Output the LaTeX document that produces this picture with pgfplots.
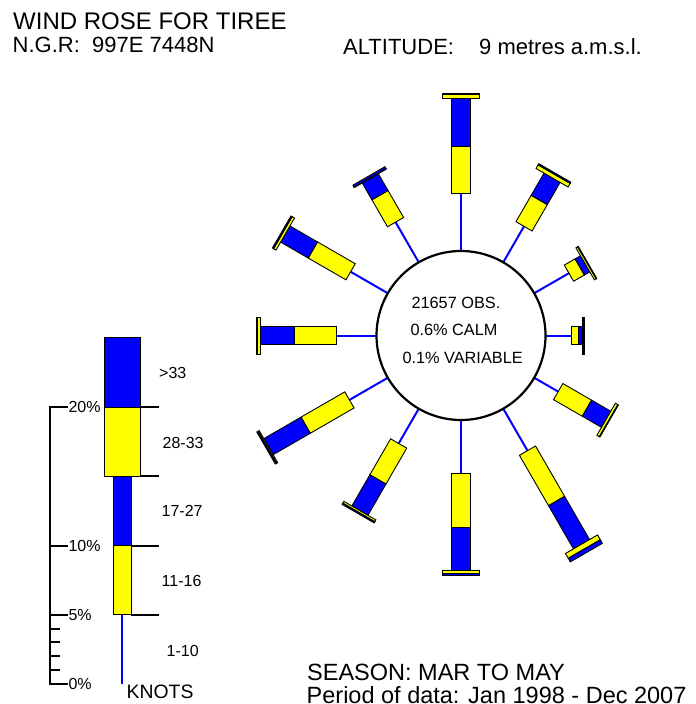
\documentclass[border=0pt]{standalone}
\usepackage{pgfplots}
\pgfplotsset{compat=1.18}
\usepackage{pgfplotstable}
\usepackage{fontspec}
\setmainfont{Liberation Sans}

\definecolor{wblue}{RGB}{0,0,255}
\definecolor{wyellow}{RGB}{255,255,0}

% wind rose data (percent of observations), direction in degrees
% a = 1-10 kn, b = 11-16 kn, c = 17-27 kn, d = 28-33 kn, e = >33 kn
\pgfplotstableread{
dir a b c d e
0   4.15 3.40 3.45 0.30 0.10
30  3.00 2.20 1.85 0.30 0.10
60  2.90 0.90 0.45 0.15 0.05
90  1.90 0.50 0.30 0.05 0.05
120 2.00 2.40 1.60 0.20 0.05
150 3.50 4.20 3.60 0.40 0.30
180 3.85 3.90 3.10 0.25 0.10
210 2.90 3.00 2.60 0.15 0.10
240 3.20 3.65 3.10 0.10 0.10
270 2.90 3.00 2.50 0.20 0.10
300 3.10 3.15 2.30 0.20 0.10
330 3.35 2.25 1.40 0.05 0.15
}\rosetable

\def\cx{461}\def\cy{335.5}\def\rzero{84.5}\def\scl{13.85}
\def\hn{9.3}\def\hw{18.5}

\newcommand\seg[5]{%
  \pgfmathsetmacro\ux{sin(#1)}\pgfmathsetmacro\uy{-cos(#1)}%
  \pgfmathsetmacro\pxx{cos(#1)}\pgfmathsetmacro\pyy{sin(#1)}%
  \pgfmathsetmacro\Ax{\cx+(#2)*\ux+(#4)*\pxx}\pgfmathsetmacro\Ay{\cy+(#2)*\uy+(#4)*\pyy}%
  \pgfmathsetmacro\Bx{\cx+(#3)*\ux+(#4)*\pxx}\pgfmathsetmacro\By{\cy+(#3)*\uy+(#4)*\pyy}%
  \pgfmathsetmacro\Cx{\cx+(#3)*\ux-(#4)*\pxx}\pgfmathsetmacro\Cy{\cy+(#3)*\uy-(#4)*\pyy}%
  \pgfmathsetmacro\Dx{\cx+(#2)*\ux-(#4)*\pxx}\pgfmathsetmacro\Dy{\cy+(#2)*\uy-(#4)*\pyy}%
  \edef\tmp{\noexpand\addplot[fill=#5,draw=black,line width=0.9bp] coordinates {(\Ax,\Ay) (\Bx,\By) (\Cx,\Cy) (\Dx,\Dy)} -- cycle;}\tmp
}
\newcommand\spoke[2]{%
  \pgfmathsetmacro\ux{sin(#1)}\pgfmathsetmacro\uy{-cos(#1)}%
  \pgfmathsetmacro\Ax{\cx+(\rzero-3)*\ux}\pgfmathsetmacro\Ay{\cy+(\rzero-3)*\uy}%
  \pgfmathsetmacro\Bx{\cx+(#2)*\ux}\pgfmathsetmacro\By{\cy+(#2)*\uy}%
  \edef\tmp{\noexpand\addplot[wblue,line width=2bp] coordinates {(\Ax,\Ay) (\Bx,\By)};}\tmp
}

\begin{document}
\begin{tikzpicture}
\begin{axis}[
  scale only axis, width=696bp, height=704bp,
  xmin=0, xmax=696, ymin=0, ymax=704, y dir=reverse,
  hide axis, clip=false]

\addplot[draw=none] coordinates {(0,0) (696,704)};

% rose spokes and bars
\pgfplotsinvokeforeach{0,...,11}{%
  \pgfplotstablegetelem{#1}{dir}\of\rosetable \pgfmathsetmacro\wdir{\pgfplotsretval}%
  \pgfplotstablegetelem{#1}{a}\of\rosetable \pgfmathsetmacro\ra{\rzero+\scl*\pgfplotsretval}%
  \pgfplotstablegetelem{#1}{b}\of\rosetable \pgfmathsetmacro\rb{\ra+\scl*\pgfplotsretval}%
  \pgfplotstablegetelem{#1}{c}\of\rosetable \pgfmathsetmacro\rc{\rb+\scl*\pgfplotsretval}%
  \pgfplotstablegetelem{#1}{d}\of\rosetable \pgfmathsetmacro\rd{\rc+\scl*\pgfplotsretval}%
  \pgfplotstablegetelem{#1}{e}\of\rosetable \pgfmathsetmacro\re{\rd+\scl*\pgfplotsretval}%
  \spoke{\wdir}{\ra}%
  \seg{\wdir}{\ra}{\rb}{\hn}{wyellow}%
  \seg{\wdir}{\rb}{\rc}{\hn}{wblue}%
  \seg{\wdir}{\rc}{\rd}{\hw}{wyellow}%
  \seg{\wdir}{\rd}{\re}{\hw}{wblue}%
}

% central circle
\draw[line width=2.2bp, fill=white] (axis cs:461,335.5) circle[radius=84.5bp];
\node[anchor=base west, inner sep=0, font=\fontsize{16.3bp}{18bp}\selectfont] at (axis cs:411.3,308.3) {21657 OBS.};
\node[anchor=base west, inner sep=0, font=\fontsize{16.3bp}{18bp}\selectfont] at (axis cs:410.3,335.7) {0.6\% CALM};
\node[anchor=base west, inner sep=0, font=\fontsize{16.3bp}{18bp}\selectfont] at (axis cs:402.3,363.3) {0.1\% VARIABLE};

% legend bar (each class = 5%)
\addplot[wblue, line width=2bp] coordinates {(122,684) (122,614.75)};
\addplot[fill=wyellow,draw=black,line width=0.9bp] coordinates {(113,614.75) (131,614.75) (131,545.5) (113,545.5)} -- cycle;
\addplot[fill=wblue,draw=black,line width=0.9bp] coordinates {(113,545.5) (131,545.5) (131,476.25) (113,476.25)} -- cycle;
\addplot[fill=wyellow,draw=black,line width=0.9bp] coordinates {(104,476.25) (140,476.25) (140,407) (104,407)} -- cycle;
\addplot[fill=wblue,draw=black,line width=0.9bp] coordinates {(104,407) (140,407) (140,337.75) (104,337.75)} -- cycle;

% legend boundary lines
\draw[line width=2bp] (axis cs:131,614.75) -- (axis cs:159,614.75);
\draw[line width=2bp] (axis cs:131,545.5) -- (axis cs:159,545.5);
\draw[line width=2bp] (axis cs:140,476.25) -- (axis cs:159,476.25);
\draw[line width=2bp] (axis cs:140,407) -- (axis cs:159,407);

% percentage scale
\draw[line width=2bp] (axis cs:50,685) -- (axis cs:50,407);
\draw[line width=2bp] (axis cs:49,684) -- (axis cs:68,684);
\draw[line width=2bp] (axis cs:49,614.75) -- (axis cs:68,614.75);
\draw[line width=2bp] (axis cs:49,545.5) -- (axis cs:68,545.5);
\draw[line width=2bp] (axis cs:49,407) -- (axis cs:68,407);
\draw[line width=2bp] (axis cs:49,670.15) -- (axis cs:60,670.15);
\draw[line width=2bp] (axis cs:49,656.3) -- (axis cs:60,656.3);
\draw[line width=2bp] (axis cs:49,642.45) -- (axis cs:60,642.45);
\draw[line width=2bp] (axis cs:49,628.6) -- (axis cs:60,628.6);
\node[anchor=west, inner sep=0, font=\fontsize{16bp}{18bp}\selectfont] at (axis cs:68.3,684) {0\%};
\node[anchor=west, inner sep=0, font=\fontsize{16bp}{18bp}\selectfont] at (axis cs:68.3,614.75) {5\%};
\node[anchor=west, inner sep=0, font=\fontsize{16bp}{18bp}\selectfont] at (axis cs:68.3,545.5) {10\%};
\node[anchor=west, inner sep=0, font=\fontsize{16bp}{18bp}\selectfont] at (axis cs:68.3,407) {20\%};

% class labels
\node[anchor=base west, inner sep=0, font=\fontsize{16bp}{18bp}\selectfont] at (axis cs:159,378.3) {>33};
\node[anchor=base west, inner sep=0, font=\fontsize{16bp}{18bp}\selectfont] at (axis cs:162.5,448.3) {28-33};
\node[anchor=base west, inner sep=0, font=\fontsize{16bp}{18bp}\selectfont] at (axis cs:161.5,516.7) {17-27};
\node[anchor=base west, inner sep=0, font=\fontsize{16bp}{18bp}\selectfont] at (axis cs:161.5,586.7) {11-16};
\node[anchor=base west, inner sep=0, font=\fontsize{16bp}{18bp}\selectfont] at (axis cs:166.5,656.7) {1-10};
\node[anchor=base west, inner sep=0, font=\fontsize{19.4bp}{21bp}\selectfont] at (axis cs:126.5,698) {KNOTS};

% titles
\node[anchor=base west, inner sep=0, font=\fontsize{24bp}{26bp}\selectfont] at (axis cs:13,30) {WIND ROSE FOR TIREE};
\node[anchor=base west, inner sep=0, font=\fontsize{22bp}{24bp}\selectfont] at (axis cs:12.5,52.7) {N.G.R:\ \ 997E 7448N};
\node[anchor=base west, inner sep=0, font=\fontsize{22bp}{24bp}\selectfont] at (axis cs:343,54.3) {ALTITUDE:};
\node[anchor=base west, inner sep=0, font=\fontsize{22bp}{24bp}\selectfont] at (axis cs:479,54.3) {9 metres a.m.s.l.};
\node[anchor=base west, inner sep=0, font=\fontsize{23.5bp}{25bp}\selectfont] at (axis cs:307,680.7) {SEASON: MAR TO MAY};
\node[anchor=base west, inner sep=0, font=\fontsize{23.5bp}{25bp}\selectfont] at (axis cs:306.5,703.3) {Period of data: Jan 1998 - Dec 2007};
\end{axis}
\pgfresetboundingbox
\useasboundingbox (current axis.south west) rectangle (current axis.north east);
\end{tikzpicture}
\end{document}
